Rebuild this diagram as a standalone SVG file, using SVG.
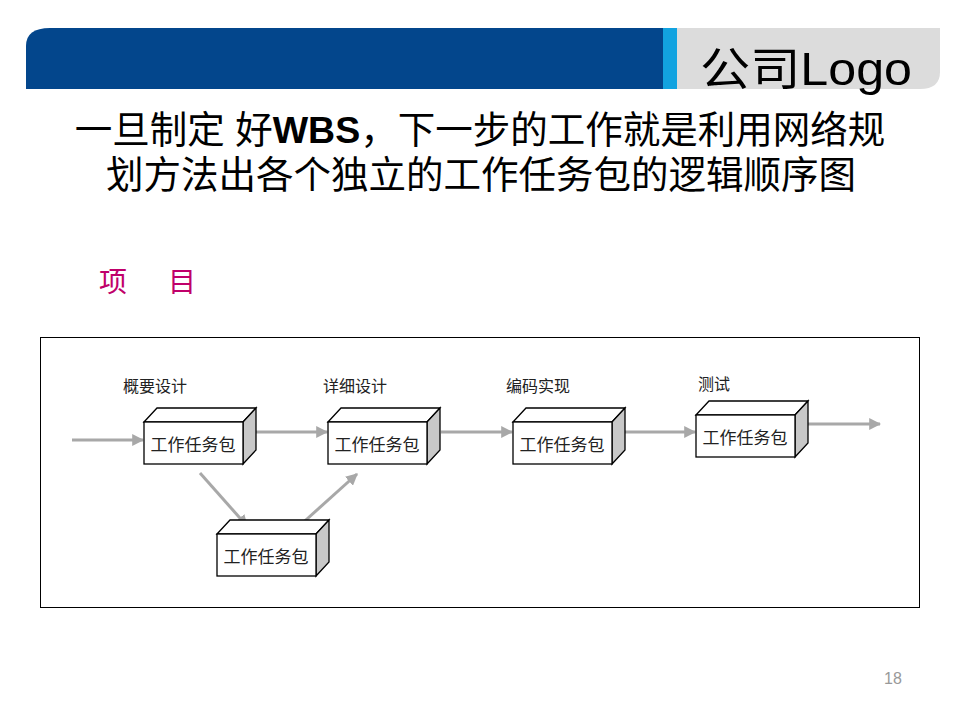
<svg xmlns="http://www.w3.org/2000/svg" width="960" height="720" viewBox="0 0 960 720">
<style>
.cjk{font-family:"Liberation Sans","Noto Sans CJK SC",sans-serif}
.face{fill:#fff;stroke:#000;stroke-width:1.3}
.side{fill:#c8c8c8;stroke:#000;stroke-width:1.3}
.bt{font-family:"Noto Sans CJK SC",sans-serif;font-size:17px;fill:#222;text-anchor:middle}
.lbl{font-family:"Noto Sans CJK SC",sans-serif;font-size:16px;fill:#222}
.arr{stroke:#a8a8a8;stroke-width:3;fill:none;marker-end:url(#ah)}
</style>
<defs>
<marker id="ah" viewBox="0 0 10 10" refX="9" refY="5" markerWidth="4" markerHeight="4" orient="auto" markerUnits="strokeWidth">
<path d="M0,0 L10,5 L0,10 z" fill="#a8a8a8"/>
</marker>
</defs>
<rect width="960" height="720" fill="#fff"/>
<g id="header">
<path d="M26,89 L26,46 Q26,28 50,28 L663,28 L663,89 z" fill="#03468c"/>
<rect x="663" y="28" width="14" height="61" fill="#12a3e0"/>
<path d="M677,28 L940,28 L940,72 Q940,89 920,89 L677,89 z" fill="#dcdcdc"/>
<text x="700" y="85" class="cjk" font-size="46" fill="#000" textLength="212" lengthAdjust="spacingAndGlyphs">公司Logo</text>
</g>
<g id="title" class="cjk" font-size="37.5" fill="#000" text-anchor="middle">
<text x="480" y="143">一旦制定 好<tspan font-weight="bold">WBS</tspan>，下一步的工作就是利用网络规</text>
<text x="481" y="188">划方法出各个独立的工作任务包的逻辑顺序图</text>
</g>
<g id="project" class="cjk" font-size="28" fill="#c0006a">
<text x="99" y="292">项</text>
<text x="168" y="292">目</text>
</g>
<rect id="frame" x="40.5" y="337.5" width="879" height="270" fill="none" stroke="#000" stroke-width="1"/>
<g id="labels">
<text x="123" y="392" class="lbl">概要设计</text>
<text x="323" y="392" class="lbl">详细设计</text>
<text x="506" y="392" class="lbl">编码实现</text>
<text x="698" y="390" class="lbl">测试</text>
</g>
<g id="connectors">
<line class="arr" x1="72" y1="440" x2="143" y2="440"/>
<line class="arr" x1="256" y1="432" x2="327" y2="432"/>
<line class="arr" x1="441" y1="432" x2="512" y2="432"/>
<line class="arr" x1="624" y1="432" x2="695" y2="432"/>
<line class="arr" x1="808" y1="424" x2="880" y2="424"/>
<line class="arr" x1="200" y1="473" x2="247" y2="526"/>
<line class="arr" x1="297" y1="528" x2="357" y2="474"/>
</g>
<g id="box1">
<path class="face" d="M144,422 L157,408 L256,408 L243,422 z"/>
<path class="side" d="M243,422 L256,408 L256,450 L243,464 z"/>
<rect class="face" x="144" y="422" width="99" height="42"/>
<text x="193" y="451" class="bt">工作任务包</text>
</g>
<g id="box2">
<path class="face" d="M217,534 L230,520 L329,520 L316,534 z"/>
<path class="side" d="M316,534 L329,520 L329,562 L316,576 z"/>
<rect class="face" x="217" y="534" width="99" height="42"/>
<text x="266" y="563" class="bt">工作任务包</text>
</g>
<g id="box3">
<path class="face" d="M328,422 L341,408 L440,408 L427,422 z"/>
<path class="side" d="M427,422 L440,408 L440,450 L427,464 z"/>
<rect class="face" x="328" y="422" width="99" height="42"/>
<text x="377" y="451" class="bt">工作任务包</text>
</g>
<g id="box4">
<path class="face" d="M513,422 L526,408 L625,408 L612,422 z"/>
<path class="side" d="M612,422 L625,408 L625,450 L612,464 z"/>
<rect class="face" x="513" y="422" width="99" height="42"/>
<text x="562" y="451" class="bt">工作任务包</text>
</g>
<g id="box5">
<path class="face" d="M696,415 L709,401 L808,401 L795,415 z"/>
<path class="side" d="M795,415 L808,401 L808,443 L795,457 z"/>
<rect class="face" x="696" y="415" width="99" height="42"/>
<text x="745" y="444" class="bt">工作任务包</text>
</g>
<text x="893" y="684" font-family="Liberation Sans,sans-serif" font-size="16" fill="#999" text-anchor="middle">18</text>
</svg>
